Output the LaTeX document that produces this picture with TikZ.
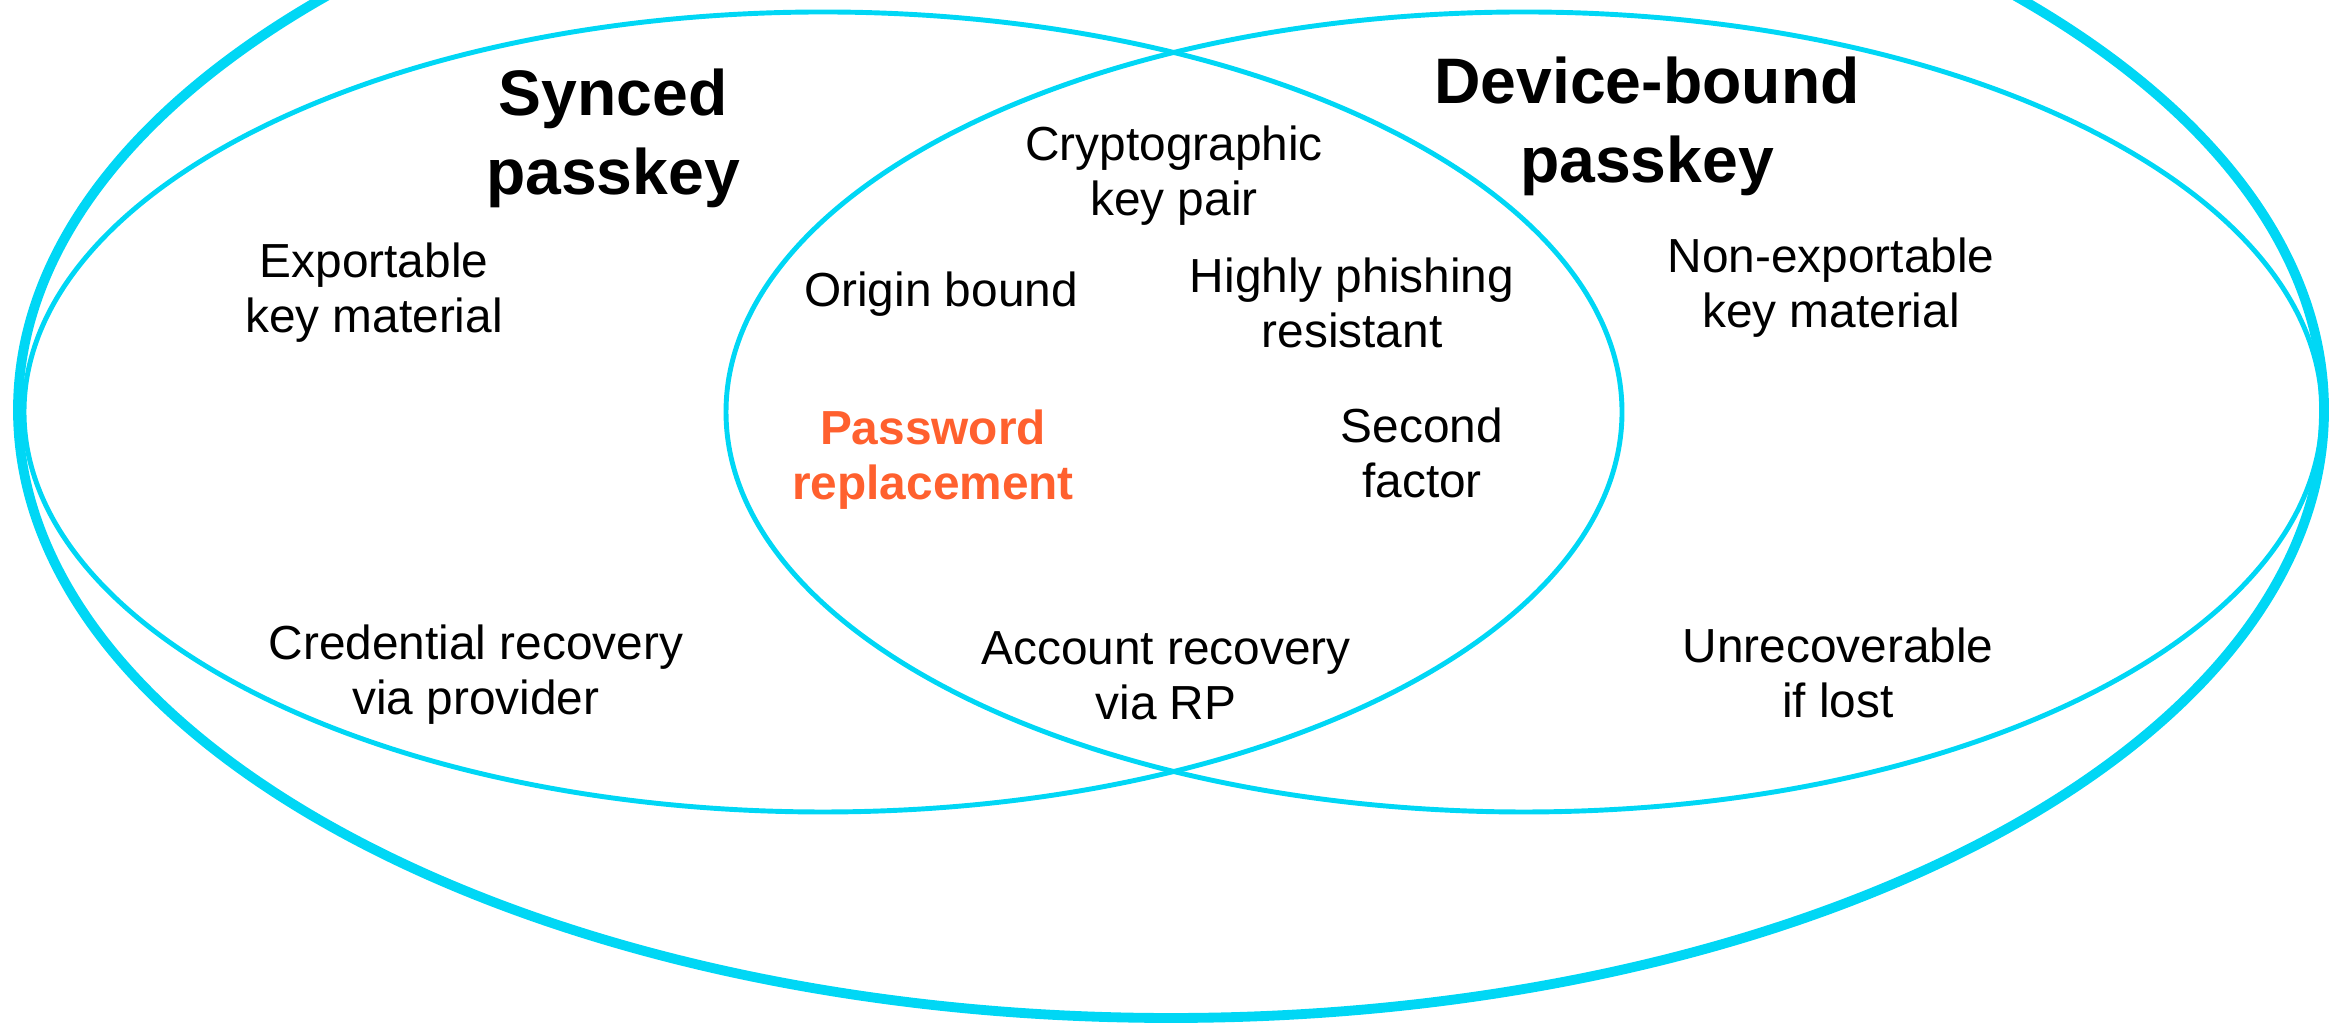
\documentclass[tikz,border=0pt]{standalone}
\usepackage{fontspec}
\setmainfont{Liberation Sans}
\usetikzlibrary{positioning}
\definecolor{vennblue}{RGB}{0,215,245}
\definecolor{pworange}{RGB}{255,96,46}

\begin{document}
\begin{tikzpicture}[ring/.style={draw=vennblue, line width=1.4pt}, bigring/.style={draw=vennblue, line width=2.8pt}, title/.style={align=center, font=\fontsize{18.3}{22.5}\selectfont\bfseries}, item/.style={align=center, font=\fontsize{13.6}{15.6}\selectfont}]
      \useasboundingbox (0,0) rectangle (23.30,10.23);
      \clip (0,0) rectangle (23.30,10.23);

      \draw[bigring] (11.71,6.13) ellipse (11.53 and 6.08);
      \draw[ring] (8.23,6.11) ellipse (7.99 and 4.00);
      \draw[ring] (15.24,6.11) ellipse (7.98 and 4.00);

      \node[title] (synced) at (6.13,8.85) {Synced\\passkey};
      \node[title] (bound) at (16.47,8.97) {Device-bound\\passkey};

      \node[item] (crypto) at (11.74,8.47) {Cryptographic\\key pair};
      \node[item] (export) at (3.74,7.30) {Exportable\\key material};
      \node[item] (origin) at (9.41,7.29) {Origin bound};
      \node[item] (phish) at (13.52,7.20) {Highly phishing\\resistant};
      \node[item] (noexport) at (18.31,7.35) {Non-exportable\\key material};
      \node[item, text=pworange, font=\fontsize{13.6}{15.6}\selectfont\bfseries] (pwd) at (9.33,5.63) {Password\\replacement};
      \node[item] (second) at (14.22,5.70) {Second\\factor};
      \node[item] (credrec) at (4.76,3.48) {Credential recovery\\via provider};
      \node[item] (accrec) at (11.66,3.47) {Account recovery\\via RP};
      \node[item] (lost) at (18.38,3.50) {Unrecoverable\\if lost};
\end{tikzpicture}
\end{document}
